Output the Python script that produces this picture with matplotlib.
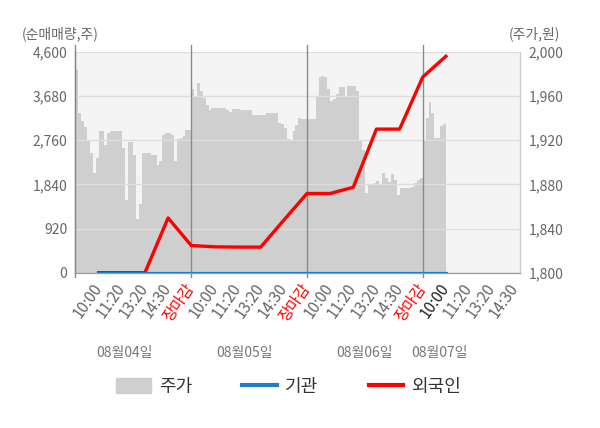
import numpy as np
import matplotlib
matplotlib.use("Agg")
import matplotlib.pyplot as plt
from matplotlib.patches import Patch
from matplotlib.lines import Line2D

plt.rcParams['font.family'] = ['Noto Sans CJK KR', 'DejaVu Sans']

# price (주가, 원) sampled in 40 equal slices per trading day
price_day1 = [1984, 1945, 1937, 1932, 1919, 1908, 1890, 1904, 1928, 1928,
              1916, 1927, 1928, 1928, 1928, 1928, 1913, 1866, 1918, 1918,
              1907, 1849, 1862, 1908, 1908, 1908, 1907, 1907, 1898, 1901,
              1925, 1927, 1927, 1925, 1901, 1921, 1922, 1924, 1929, 1929]
price_day2 = [1966, 1960, 1972, 1965, 1958, 1952, 1947, 1949, 1949, 1949,
              1949, 1949, 1947, 1946, 1948, 1948, 1948, 1947, 1947, 1947,
              1947, 1943, 1943, 1943, 1943, 1943, 1945, 1945, 1945, 1945,
              1936, 1935, 1931, 1921, 1920, 1928, 1934, 1940, 1939, 1939]
price_day3 = [1939, 1939, 1939, 1960, 1977, 1978, 1977, 1966, 1956, 1957,
              1962, 1968, 1968, 1960, 1969, 1969, 1969, 1965, 1920, 1911,
              1872, 1880, 1880, 1881, 1883, 1880, 1890, 1886, 1882, 1889,
              1884, 1870, 1877, 1877, 1877, 1877, 1878, 1881, 1884, 1886]
price_day4 = [1920, 1940, 1955, 1945, 1922, 1922, 1933, 1935]
prices = [price_day1, price_day2, price_day3, price_day4]

# net buying volume (순매매량, 주) at each time tick
institution = [0, 0, 0, 0, 0, 0, 0, 0, 0, 0, 0, 0, 0, 0, 0, 0]
foreign = [0, 0, 0, 1141, 566, 539, 533, 533, 1095, 1650,
           1650, 1780, 2992, 2992, 4077, 4510]

times = ["10:00", "11:20", "13:20", "14:30", "장마감"]
days = ["08월04일", "08월05일", "08월06일", "08월07일"]

fig = plt.figure(figsize=(6, 4.28), dpi=100)
ax = fig.add_axes([0.1258, 0.3629, 0.7408, 0.5157])
ax.set_facecolor("#f4f4f4")

# price bars on the main axis (right side scale)
slot = 5 / 40
for d, p in enumerate(prices):
    x = 5 * d + np.arange(len(p)) * slot
    ax.bar(x, np.array(p) - 1800, bottom=1800, width=slot, align="edge",
           color="#cfcfcf", linewidth=0, zorder=1)
ax.set_ylim(1800, 2000)
ax.set_yticks(np.arange(1800, 2001, 40))
ax.set_yticklabels([f"{v:,}" for v in range(1800, 2001, 40)])
ax.grid(axis="y", color="#dedede", linewidth=1)
# day separators (and left edge) reach a little past the plot area
for sep in [0, 5, 10, 15]:
    ax.axvline(sep, ymin=-0.02, ymax=1.03, color="#8a8a8a", linewidth=1,
               zorder=2, clip_on=False)

# net volume lines on twin axis (left side scale)
ax2 = ax.twinx()
ax.yaxis.tick_right()
ax2.yaxis.tick_left()
tick_x = np.arange(1, len(foreign) + 1)
ax2.plot(tick_x, foreign, color="#ff0000", linewidth=2.4, zorder=3)
ax2.plot(tick_x, institution, color="#1a7fcf", linewidth=2.3, zorder=4)
ax2.set_ylim(0, 4600)
ax2.set_yticks(np.arange(0, 4601, 920))
ax2.set_yticklabels([f"{v:,}" for v in range(0, 4601, 920)])

ax.set_xlim(0, 19.2)
all_ticks = np.arange(1, 20)
labels = (times * 4)[:19]
ax.set_xticks(all_ticks)
ax.set_xticklabels(labels, rotation=55, ha="right", va="center",
                   rotation_mode="anchor")

for a in (ax, ax2):
    a.tick_params(length=0, labelsize=10, colors="#666666")
    a.spines["top"].set_visible(False)
    a.spines["left"].set_color("#888888")
    a.spines["right"].set_color("#cccccc")
    a.spines["bottom"].set_color("#999999")
ax.tick_params(axis="x", pad=9, labelsize=11)
ax.tick_params(axis="y", pad=6)
ax2.tick_params(axis="y", pad=6)

for i, t in enumerate(ax.get_xticklabels()):
    if labels[i] == "장마감":
        t.set_color("#ff0000")
    elif i == 15:
        t.set_color("#222222")
    else:
        t.set_color("#666666")

fig.text(0.037, 0.922, "(순매매량,주)", fontsize=10, color="#666666", va="center")
fig.text(0.848, 0.922, "(주가,원)", fontsize=10, color="#666666", va="center")

for xpos, dlabel in zip([0.208, 0.408, 0.608, 0.733], days):
    fig.text(xpos, 0.175, dlabel, fontsize=10, color="#777777",
             ha="center", va="center")

handles = [Patch(color="#cfcfcf"),
           Line2D([], [], color="#1a7fcf", linewidth=3),
           Line2D([], [], color="#ff0000", linewidth=3)]
fig.legend(handles, ["주가", "기관", "외국인"], loc="center",
           bbox_to_anchor=(0.481, 0.096), ncol=3, frameon=False,
           fontsize=13, handlelength=1.9, handleheight=0.9,
           handletextpad=0.45, columnspacing=2.8, labelcolor="#333333")

fig.savefig("out.png", dpi=100)
